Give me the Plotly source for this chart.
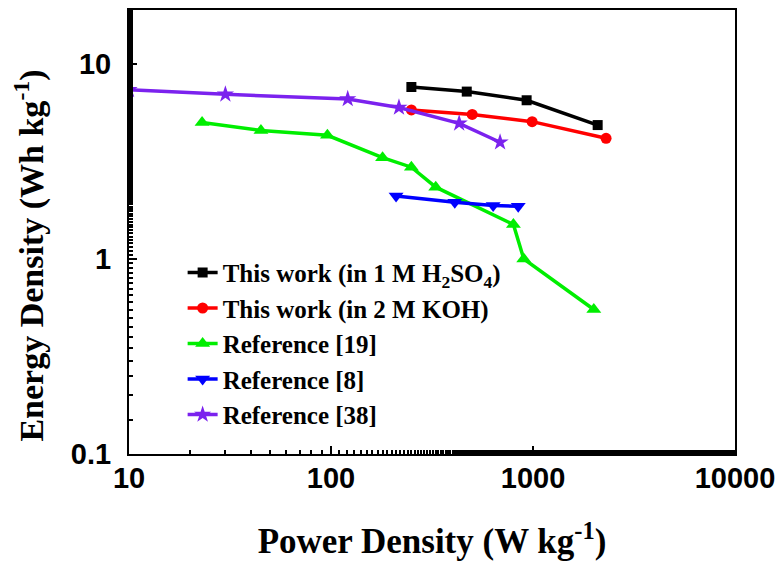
import plotly.graph_objects as go

# Power density (W/kg) and energy density (Wh/kg)
h2so4_power = [250, 470, 930, 2090]
h2so4_energy = [7.6, 7.2, 6.5, 4.85]

koh_power = [250, 500, 990, 2300]
koh_energy = [5.8, 5.5, 5.05, 4.15]

ref19_power = [23, 45, 96, 180, 250, 330, 800, 900, 2000]
ref19_energy = [5.0, 4.55, 4.3, 3.3, 2.95, 2.33, 1.5, 1.0, 0.55]

ref8_power = [210, 410, 635, 845]
ref8_energy = [2.1, 1.95, 1.88, 1.86]

ref38_power = [10, 30, 121, 217, 431, 687]
ref38_energy = [7.35, 6.97, 6.6, 5.97, 4.95, 3.96]

x_ticks = [10, 100, 1000, 10000]
y_ticks = [0.1, 1, 10]
y_tick_text = ["0.1", "1", "10"]

series = [
    ("This work (in 1 M H<sub>2</sub>SO<sub>4</sub>)", h2so4_power, h2so4_energy, "#000000", "square", 10),
    ("This work (in 2 M KOH)", koh_power, koh_energy, "#ff0000", "circle", 11),
    ("Reference [19]", ref19_power, ref19_energy, "#00ee00", "triangle-up", 13),
    ("Reference [8]", ref8_power, ref8_energy, "#0000ff", "triangle-down", 13),
    ("Reference [38]", ref38_power, ref38_energy, "#7b22ee", "star", 13),
]

fig = go.Figure()
for name, xs, ys, color, symbol, size in series:
    fig.add_trace(
        go.Scatter(
            x=xs,
            y=ys,
            mode="lines+markers",
            name=name,
            line={"color": color, "width": 3.5},
            marker={"color": color, "symbol": symbol, "size": size},
        )
    )

title_font = {"family": "Liberation Serif", "size": 35, "color": "black", "weight": "bold"}

axis_common = {
    "type": "log",
    "showline": True,
    "linecolor": "black",
    "linewidth": 2,
    "mirror": True,
    "ticks": "inside",
    "ticklen": 8,
    "tickwidth": 2,
    "tickcolor": "black",
    "showgrid": False,
    "zeroline": False,
    "minor": {"ticks": "inside", "ticklen": 4, "tickwidth": 1.5, "tickcolor": "black", "showgrid": False},
    "tickfont": {"family": "Liberation Sans", "size": 29, "color": "black", "weight": "bold"},
}

# y title sits lower than the plot centre in the reference, so it is an annotation
fig.add_annotation(
    text="Energy Density (Wh kg<sup>-1</sup>)",
    textangle=-90,
    xref="paper",
    yref="paper",
    x=-0.164,
    y=0.446,
    xanchor="center",
    yanchor="middle",
    showarrow=False,
    font={**title_font, "size": 34},
)

# page body adds an 8px offset, margins are set to land the frame where the reference has it
fig.update_layout(
    width=784,
    height=562,
    paper_bgcolor="white",
    plot_bgcolor="white",
    margin={"l": 121, "r": 57, "t": 0, "b": 116},
    showlegend=True,
    legend={
        "x": 0.0885,
        "y": 0.46,
        "xanchor": "left",
        "yanchor": "top",
        "bgcolor": "rgba(0,0,0,0)",
        "borderwidth": 0,
        "font": {"family": "Liberation Serif", "size": 25, "color": "black", "weight": "bold"},
        "tracegroupgap": 0,
    },
    xaxis={
        **axis_common,
        "range": [1, 4],
        "tickvals": x_ticks,
        "ticktext": [str(v) for v in x_ticks],
        "ticklabelstandoff": -3,
        "title": {"text": "Power Density (W kg<sup>-1</sup>)", "font": title_font, "standoff": 36},
    },
    yaxis={
        **axis_common,
        "range": [-1, 1.2755],
        "tickvals": y_ticks,
        "ticktext": y_tick_text,
        "ticklabelstandoff": 10,
    },
)

fig.write_html("out.html")
